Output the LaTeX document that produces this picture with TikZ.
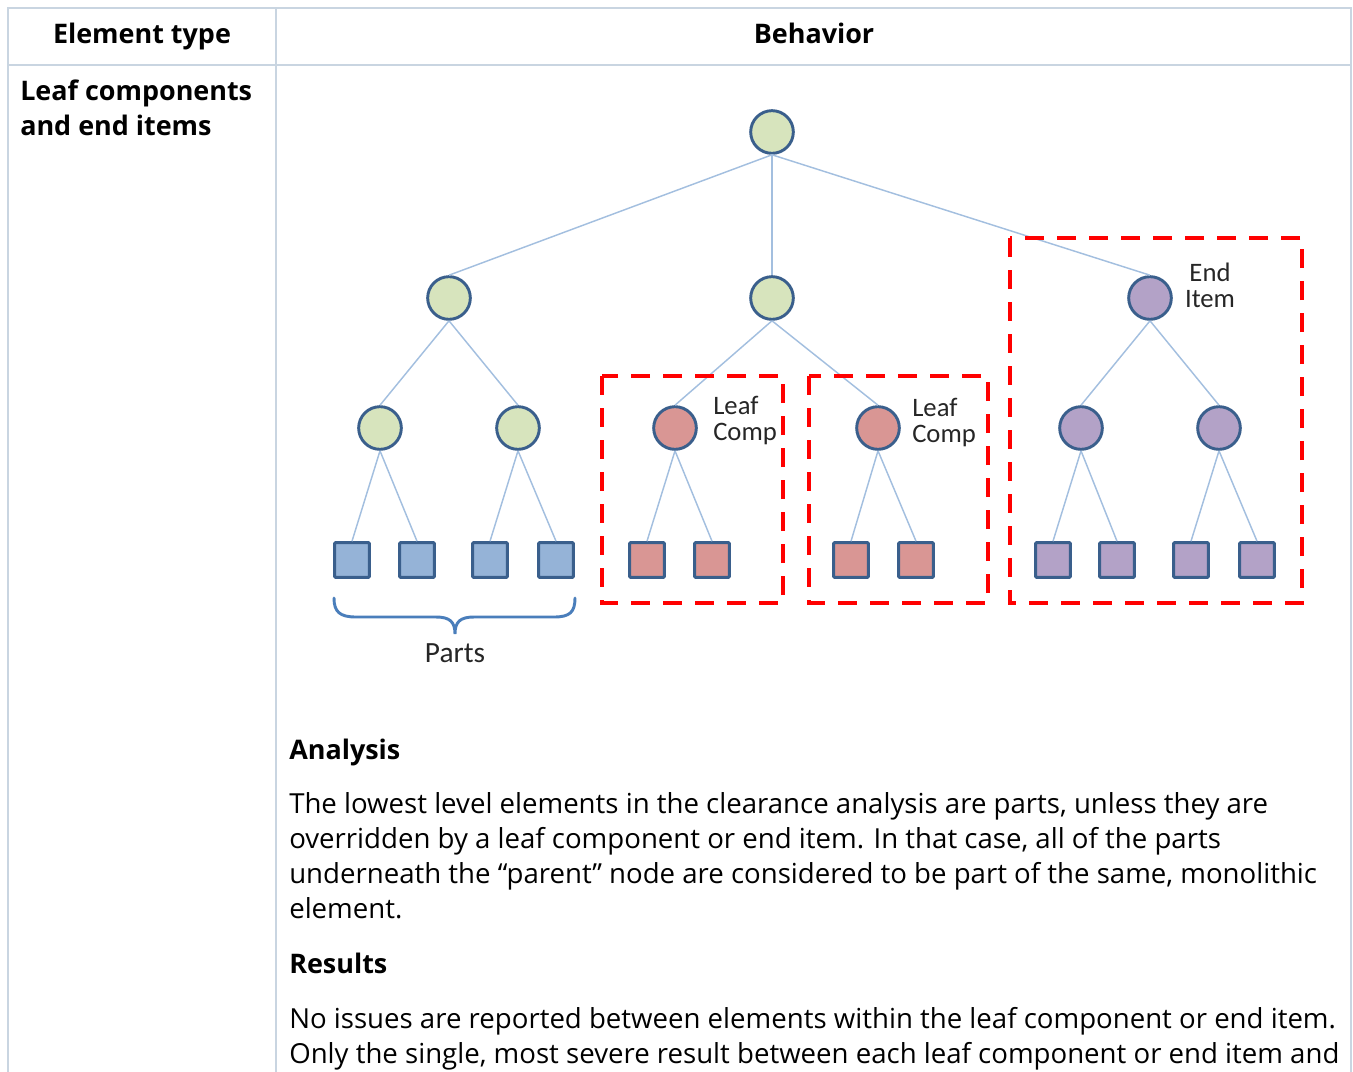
\documentclass[tikz,border=0pt]{standalone}
\usepackage{fontspec}
\setmainfont{Open Sans}
\newfontfamily\diagfont{Carlito}
\begin{document}
\begin{tikzpicture}[x=0.75pt,y=-0.75pt,
  grid/.style={draw=gridc,line width=2.2pt},
  hdr/.style={font=\bfseries\fontsize{20.2}{26}\selectfont,inner sep=0pt},
  body/.style={font=\fontsize{20.7}{26}\selectfont,inner sep=0pt,anchor=base west},
  knot/.style={circle,draw=edgec,line width=2.2pt,minimum size=32pt,inner sep=0pt},
  part/.style={rectangle,draw=edgec,line width=2.2pt,minimum size=26pt,inner sep=0pt,rounded corners=0.6pt},
  link/.style={draw=linkc,line width=1.1pt},
  group/.style={draw=red,line width=3pt,dash pattern=on 14pt off 10pt},
  lbl/.style={font=\diagfont\fontsize{20}{20}\selectfont,inner sep=0pt,anchor=base west,text=black!85},
]
\definecolor{gridc}{HTML}{C9D5E1}
\definecolor{edgec}{HTML}{3A5F8C}
\definecolor{linkc}{HTML}{A3BFDF}
\definecolor{greenf}{HTML}{D7E4BD}
\definecolor{redf}{HTML}{D99694}
\definecolor{purplef}{HTML}{B3A2C7}
\definecolor{bluef}{HTML}{95B3D7}
\definecolor{bracec}{HTML}{4A7EBB}

\useasboundingbox (0,0) rectangle (1353,1071);

% table grid
\draw[grid] (8,1075) -- (8,8) -- (1351,8) -- (1351,1075);
\draw[grid] (8,65) -- (1351,65);
\draw[grid] (276,8) -- (276,1075);

% header and first column
\node[hdr,anchor=base] (h1) at (142,43) {Element type};
\node[hdr,anchor=base] (h2) at (814,43) {Behavior};
\node[hdr,anchor=base west] (t1) at (20,100) {Leaf components};
\node[hdr,anchor=base west] (t2) at (20,135) {and end items};

% tree: circles
\node[knot,fill=greenf] (r) at (772,132) {};
\node[knot,fill=greenf] (a) at (449,298) {};
\node[knot,fill=greenf] (b) at (772,298) {};
\node[knot,fill=purplef] (c) at (1150,298) {};
\node[knot,fill=greenf] (a1) at (380,428) {};
\node[knot,fill=greenf] (a2) at (518,428) {};
\node[knot,fill=redf] (b1) at (675,428) {};
\node[knot,fill=redf] (b2) at (878,428) {};
\node[knot,fill=purplef] (c1) at (1081,428) {};
\node[knot,fill=purplef] (c2) at (1219,428) {};

% tree: squares
\node[part,fill=bluef] (p1) at (352,560) {};
\node[part,fill=bluef] (p2) at (417,560) {};
\node[part,fill=bluef] (p3) at (490,560) {};
\node[part,fill=bluef] (p4) at (556,560) {};
\node[part,fill=redf] (q1) at (647,560) {};
\node[part,fill=redf] (q2) at (712,560) {};
\node[part,fill=redf] (q3) at (851,560) {};
\node[part,fill=redf] (q4) at (916,560) {};
\node[part,fill=purplef] (s1) at (1053,560) {};
\node[part,fill=purplef] (s2) at (1117,560) {};
\node[part,fill=purplef] (s3) at (1191,560) {};
\node[part,fill=purplef] (s4) at (1257,560) {};

% links
\foreach \u/\v in {r/a,r/b,r/c,a/a1,a/a2,b/b1,b/b2,c/c1,c/c2,
                   a1/p1,a1/p2,a2/p3,a2/p4,b1/q1,b1/q2,b2/q3,b2/q4,
                   c1/s1,c1/s2,c2/s3,c2/s4}
  \draw[link] (\u.south) -- (\v.north);

% dashed groups
\draw[group] (602,376) rectangle (783,603);
\draw[group] (809,376) rectangle (988,603);
\draw[group] (1010,238) rectangle (1302,603);

% labels
\node[lbl] (l1a) at (713,414) {Leaf};
\node[lbl] (l1b) at (713,440) {Comp};
\node[lbl] (l2a) at (912,416) {Leaf};
\node[lbl] (l2b) at (912,442) {Comp};
\node[lbl,anchor=base] (ea) at (1210,281) {End};
\node[lbl,anchor=base] (eb) at (1210,307) {Item};

% brace under the parts
\draw[bracec,line width=2.2pt,line cap=round]
  (334,598) .. controls (334,612) and (340,617) .. (356,617) -- (436,617)
  .. controls (450,617) and (455,622) .. (455,634)
  .. controls (455,622) and (460,617) .. (474,617) -- (554,617)
  .. controls (570,617) and (575,612) .. (575,598);
\node[font=\diagfont\fontsize{22}{22}\selectfont,inner sep=0pt,anchor=base,text=black!85] (pt) at (455,662) {Parts};

% description text
\node[hdr,anchor=base west] (an) at (289,759) {Analysis};
\node[body] (x1) at (289,813) {The lowest level elements in the clearance analysis are parts, unless they are};
\node[body] (x2) at (289,848) {overridden by a leaf component or end item. In that case, all of the parts};
\node[body] (x3) at (289,883) {underneath the “parent” node are considered to be part of the same, monolithic};
\node[body] (x4) at (289,918) {element.};
\node[hdr,anchor=base west] (re) at (289,973) {Results};
\node[body] (y1) at (289,1028) {No issues are reported between elements within the leaf component or end item.};
\node[body] (y2) at (289,1063) {Only the single, most severe result between each leaf component or end item and};
\end{tikzpicture}
\end{document}
